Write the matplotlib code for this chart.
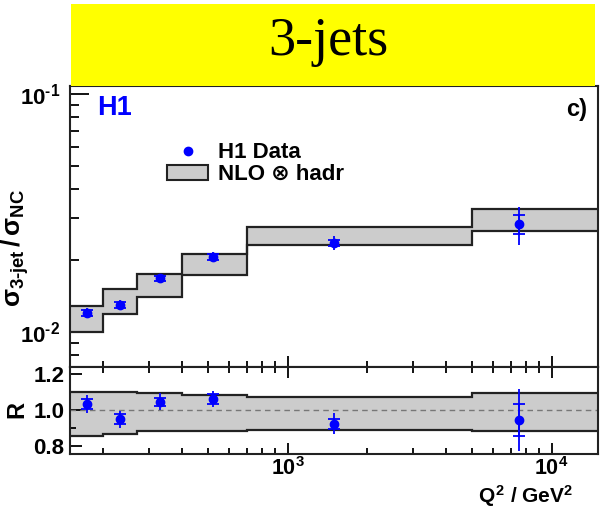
import matplotlib
matplotlib.use('Agg')
import matplotlib.pyplot as plt
from matplotlib.patches import Rectangle
from matplotlib.ticker import NullFormatter, FixedLocator

plt.rcParams['font.family'] = ['Liberation Sans', 'DejaVu Sans']
plt.rcParams['font.weight'] = 'bold'
plt.rcParams['mathtext.fontset'] = 'custom'
plt.rcParams['mathtext.rm'] = 'Liberation Sans:bold'
plt.rcParams['mathtext.it'] = 'Liberation Sans:bold'
plt.rcParams['mathtext.bf'] = 'Liberation Sans:bold'

###########################
# data

q2_edges = [150, 200, 270, 400, 700, 5000, 15000]
q2_points = [174, 232, 329, 521, 1500, 7550]

# sigma_3jet / sigma_NC
ratio_data = [0.0120, 0.0130, 0.0168, 0.0207, 0.0237, 0.0284]
ratio_stat = [0.00033, 0.00037, 0.00035, 0.00055, 0.0007, 0.0025]
ratio_tot = [0.00058, 0.00063, 0.00077, 0.00088, 0.0015, 0.0052]

# NLO x hadr band
nlo_lo = [0.0100, 0.01187, 0.01407, 0.01736, 0.0232, 0.02657]
nlo_hi = [0.0129, 0.0151, 0.01752, 0.0212, 0.0277, 0.03287]

# R = data / NLO
r_data = [1.032, 0.949, 1.047, 1.061, 0.924, 0.944]
r_stat = [0.028, 0.027, 0.022, 0.028, 0.028, 0.09]
r_tot = [0.050, 0.046, 0.048, 0.045, 0.058, 0.173]
r_lo = [0.857, 0.870, 0.882, 0.886, 0.890, 0.883]
r_hi = [1.102, 1.099, 1.095, 1.082, 1.073, 1.098]

###########################

W, H = 608., 508.
def box(l, t, r, b):
    return [l/W, 1-b/H, (r-l)/W, (b-t)/H]

fig = plt.figure(figsize=(6.08, 5.08), dpi=100)
ax = fig.add_axes(box(70, 86, 598, 367))
axr = fig.add_axes(box(70, 367, 598, 454), sharex=ax)

grey = '#cccccc'
blue = '#0000ff'

## upper panel
ax.set_xscale('log')
ax.set_yscale('log')
ax.set_xlim(150, 15000)
ax.set_ylim(0.00713, 0.108)

ax.stairs(nlo_hi, q2_edges, baseline=nlo_lo, fill=True, color=grey, zorder=1)
ax.stairs(nlo_hi, q2_edges, baseline=None, color='#222222', lw=1.6, zorder=2)
ax.stairs(nlo_lo, q2_edges, baseline=None, color='#222222', lw=1.6, zorder=2)

ax.errorbar(q2_points, ratio_data, yerr=ratio_tot, fmt='none', ecolor=blue,
            elinewidth=1.3, capsize=0, zorder=3)
ax.errorbar(q2_points, ratio_data, yerr=ratio_stat, fmt='o', color=blue, ms=6,
            elinewidth=1.3, capsize=4, capthick=1.3, zorder=4)

ax.set_yticks([0.01, 0.1], labels=[r'$10^{\text{-}2}$', r'$10^{\text{-}1}$'])
ax.yaxis.set_minor_formatter(NullFormatter())
ax.tick_params(axis='y', which='major', direction='in', length=13.5, width=1.3,
               labelsize=16, pad=7)
ax.tick_params(axis='y', which='minor', direction='in', length=6.5, width=1.3)
ax.tick_params(axis='x', which='major', direction='in', length=8, width=1.3,
               labelbottom=False)
ax.tick_params(axis='x', which='minor', direction='in', length=4.3, width=1.3)

ax.text(0.051, 0.968, 'H1', color=blue, fontsize=19.5, ha='left', va='top',
        transform=ax.transAxes)
ax.text(0.979, 0.957, 'c)', color='black', fontsize=17, ha='right', va='top',
        transform=ax.transAxes)

# legend drawn by hand
ax.plot([0.2235], [0.769], 'o', color=blue, ms=6, transform=ax.transAxes)
ax.add_patch(Rectangle((0.1837, 0.6655), 0.0777, 0.0534, transform=ax.transAxes,
                       facecolor=grey, edgecolor='#222222', lw=1.5))
ax.text(0.2803, 0.765, 'H1 Data', fontsize=16, ha='left', va='center',
        transform=ax.transAxes)
ax.text(0.2803, 0.687, 'NLO \u2297 hadr', fontsize=16, ha='left', va='center',
        transform=ax.transAxes)

## ratio panel
axr.set_ylim(0.756, 1.240)
axr.stairs(r_hi, q2_edges, baseline=r_lo, fill=True, color=grey, zorder=1)
axr.stairs(r_hi, q2_edges, baseline=None, color='#222222', lw=1.6, zorder=2)
axr.stairs(r_lo, q2_edges, baseline=None, color='#222222', lw=1.6, zorder=2)
axr.axhline(1.0, color='#777777', lw=1, ls=(0, (4, 3)), zorder=2)

axr.errorbar(q2_points, r_data, yerr=r_tot, fmt='none', ecolor=blue,
             elinewidth=1.3, capsize=0, zorder=3)
axr.errorbar(q2_points, r_data, yerr=r_stat, fmt='o', color=blue, ms=6,
             elinewidth=1.3, capsize=4, capthick=1.3, zorder=4)

axr.set_yticks([0.8, 1.0, 1.2], labels=['0.8', '1.0', '1.2'])
axr.yaxis.set_minor_locator(FixedLocator([0.9, 1.1]))
axr.tick_params(axis='y', which='major', direction='in', length=8.5, width=1.3,
                labelsize=16, pad=4)
axr.tick_params(axis='y', which='minor', direction='in', length=4.3, width=1.3)

axr.set_xticks([1e3, 1e4], labels=[r'$10^{3}$', r'$10^{4}$'])
axr.xaxis.set_minor_formatter(NullFormatter())
axr.tick_params(axis='x', which='major', direction='in', length=8, width=1.3,
                top=True, labelsize=15.5, pad=2)
axr.tick_params(axis='x', which='minor', direction='in', length=4.3, width=1.3,
                top=True)

for a in (ax, axr):
    for s in a.spines.values():
        s.set_linewidth(1.5)
        s.set_color('#222222')

## axis titles
fig.text(31/W, 1-248/H, r'$\sigma_{3\text{-}jet}\,/\,\sigma_{NC}$', rotation=90,
         ha='right', va='center', fontsize=19)
fig.text(573/W, 1-503/H, r'$Q^{2}$ / GeV$^{2}$', ha='right', va='baseline',
         fontsize=15)
fig.text(5/W, 1-410/H, 'R', rotation=90, ha='left', va='center', fontsize=17)

## yellow title box
fig.add_artist(Rectangle((71/W, 1-85.5/H), 524/W, 81.5/H, transform=fig.transFigure,
                         facecolor='#ffff00', edgecolor='none'))
fig.text(328.5/W, 1-55/H, '3-jets', family='Liberation Serif', fontweight='normal',
         fontsize=39, ha='center', va='baseline')

fig.savefig('out.png', dpi=100)
